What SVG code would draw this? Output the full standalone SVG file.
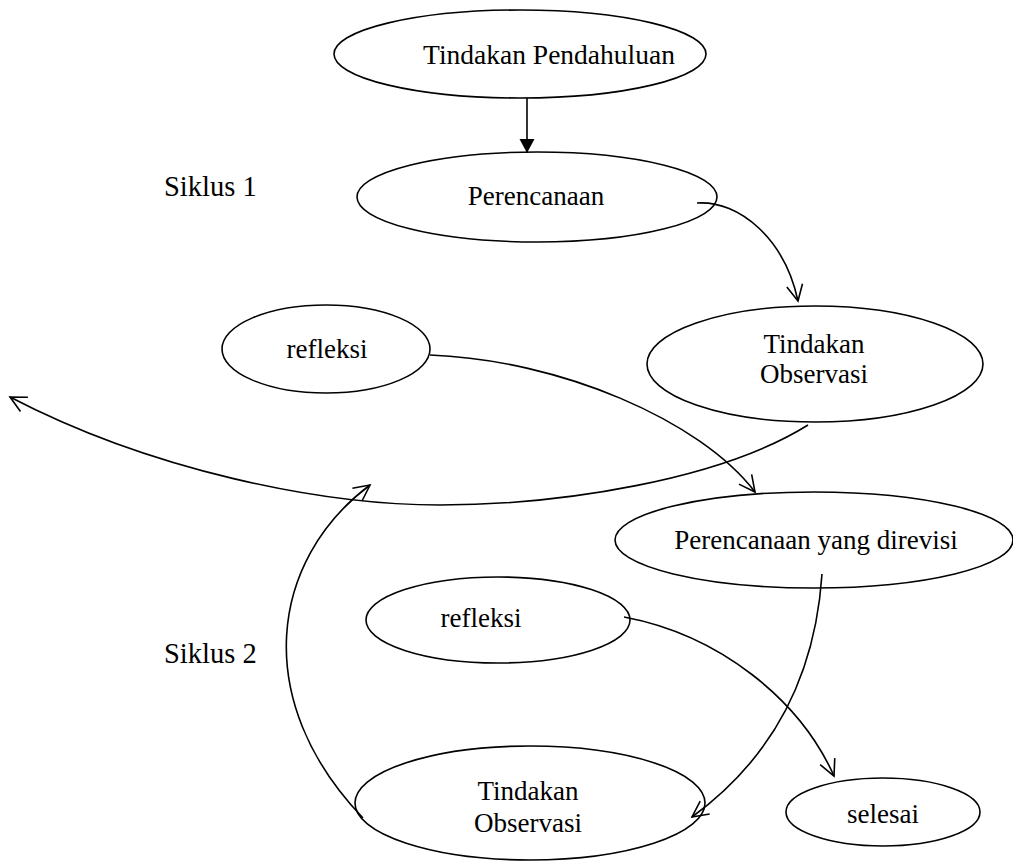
<svg xmlns="http://www.w3.org/2000/svg" width="1013" height="863" viewBox="0 0 1013 863">
<style>
.n{fill:#fff;stroke:#000;stroke-width:1.6}
.t{font-family:"Liberation Serif","Times New Roman",serif;font-size:27px;fill:#000;text-anchor:middle}
.l{font-family:"Liberation Serif","Times New Roman",serif;font-size:28.5px;fill:#000}
.c{fill:none;stroke:#000;stroke-width:1.6}
</style>
<defs>
<marker id="open" markerUnits="userSpaceOnUse" markerWidth="20" markerHeight="20" viewBox="0 0 20 20" refX="18" refY="10" orient="auto">
<path d="M2,2 L18,10 L2,18" fill="none" stroke="#000" stroke-width="1.6"/>
</marker>
<marker id="solid" markerUnits="userSpaceOnUse" markerWidth="16" markerHeight="16" viewBox="0 0 16 16" refX="15" refY="8" orient="auto">
<path d="M1,0.5 L15,8 L1,15.5 Z" fill="#000"/>
</marker>
</defs>
<rect width="1013" height="863" fill="#fff"/>
<g id="label-siklus1"><text class="l" x="164" y="196">Siklus 1</text></g>
<g id="label-siklus2"><text class="l" x="164" y="663">Siklus 2</text></g>
<g id="node-pendahuluan">
<ellipse class="n" cx="520" cy="54" rx="186" ry="44"/>
<text class="t" x="549" y="64" style="font-size:27.5px">Tindakan Pendahuluan</text>
</g>
<g id="node-perencanaan">
<ellipse class="n" cx="537" cy="197" rx="180" ry="45"/>
<text class="t" x="536" y="205">Perencanaan</text>
</g>
<g id="node-observasi1">
<ellipse class="n" cx="815" cy="364" rx="168" ry="58"/>
<text class="t" x="814" y="353">Tindakan</text>
<text class="t" x="814" y="383">Observasi</text>
</g>
<g id="node-refleksi1">
<ellipse class="n" cx="326" cy="349" rx="104" ry="44"/>
<text class="t" x="327" y="358">refleksi</text>
</g>
<g id="node-revisi">
<ellipse class="n" cx="814" cy="540" rx="199" ry="48"/>
<text class="t" x="816" y="549">Perencanaan yang direvisi</text>
</g>
<g id="node-refleksi2">
<ellipse class="n" cx="498" cy="620" rx="132" ry="43"/>
<text class="t" x="481" y="627">refleksi</text>
</g>
<g id="node-observasi2">
<ellipse class="n" cx="530" cy="803" rx="175" ry="57"/>
<text class="t" x="528" y="800">Tindakan</text>
<text class="t" x="528" y="832">Observasi</text>
</g>
<g id="node-selesai">
<ellipse class="n" cx="883" cy="812" rx="97" ry="34"/>
<text class="t" x="883" y="823">selesai</text>
</g>
<g id="connectors">
<path class="c" d="M527 98 L527 153" marker-end="url(#solid)"/>
<path class="c" d="M697 203 C740 200,785 240,798 301" marker-end="url(#open)"/>
<path class="c" d="M430 355 C560 360,700 420,755 492" marker-end="url(#open)"/>
<path class="c" d="M808 425 C720 480,560 505,440 505 S150 470,10 397" marker-end="url(#open)"/>
<path class="c" d="M822 574 C815 680,770 760,692 817" marker-end="url(#open)"/>
<path class="c" d="M363 818 C250 700,270 560,370 485" marker-end="url(#open)"/>
<path class="c" d="M624 617 C720 635,800 700,834 776" marker-end="url(#open)"/>
</g>
</svg>
